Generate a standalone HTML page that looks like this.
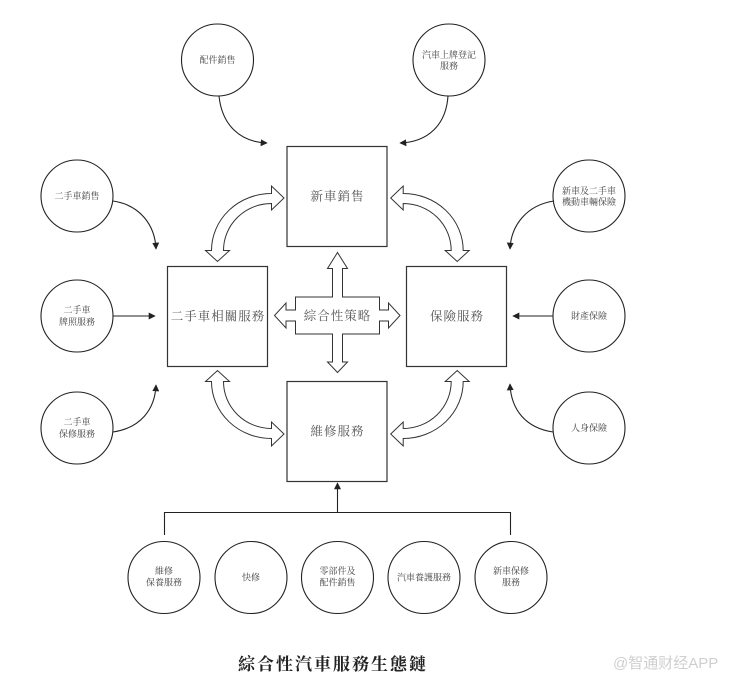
<!DOCTYPE html>
<html>
<head>
<meta charset="utf-8">
<style>
html,body{margin:0;padding:0;background:#fff;}
body{width:730px;height:680px;overflow:hidden;}
svg{display:block;}
.bx{fill:#fff;stroke:#333;stroke-width:1.2;}
.cr{fill:#fff;stroke:#222;stroke-width:1.1;}
.ar{fill:#fff;stroke:#333;stroke-width:1;stroke-linejoin:miter;}
.ln{fill:none;stroke:#222;stroke-width:1.1;}
.bt{font-family:"Liberation Serif","Noto Serif CJK SC",serif;font-size:12.5px;fill:#555;text-anchor:middle;letter-spacing:1px;}
.ct{font-family:"Liberation Serif","Noto Serif CJK SC",serif;font-size:9px;fill:#444;text-anchor:middle;}
</style>
</head>
<body>
<svg width="730" height="680" viewBox="0 0 730 680" xmlns="http://www.w3.org/2000/svg">
<defs>
<marker id="ah" viewBox="0 0 10 10" refX="9" refY="5" markerWidth="7" markerHeight="7" markerUnits="userSpaceOnUse" orient="auto">
<path d="M0,0 L10,5 L0,10 Z" fill="#222"/>
</marker>
</defs>

<!-- Boxes -->
<rect class="bx" x="287" y="146.5" width="100" height="100"/>
<rect class="bx" x="167.5" y="266.5" width="100" height="100"/>
<rect class="bx" x="406.5" y="266.5" width="100" height="100"/>
<rect class="bx" x="287" y="381.5" width="100" height="100"/>

<text class="bt" x="337.5" y="200.5">新車銷售</text>
<text class="bt" x="218" y="320.5">二手車相關服務</text>
<text class="bt" x="457" y="320.5">保險服務</text>
<text class="bt" x="337.5" y="435.5">維修服務</text>

<!-- Center cross -->
<polygon class="ar" points="337.5,252.5 347.5,268.5 342.5,268.5 342.5,297 379.5,297 379.5,310 388.5,310 388.5,303 400,315.5 388.5,328 388.5,321 379.5,321 379.5,334 342.5,334 342.5,362 347.5,362 337.5,372.5 327.5,362 332.5,362 332.5,334 295.5,334 295.5,321 286,321 286,328 274.5,315.5 286,303 286,310 295.5,310 295.5,297 332.5,297 332.5,268.5 327.5,268.5"/>
<text class="bt" x="337.5" y="320">綜合性策略</text>

<!-- Curved double arrows -->
<g id="ul">
<path class="ar" d="M271.5,193.5 L271.5,186 L284,198 L271.5,210 L271.5,203.5 A48,47 0 0 0 223.5,250.5 L229.5,250.5 L217.5,261.5 L205.5,250.5 L211.5,250.5 A60,57 0 0 1 271.5,193.5 Z"/>
</g>
<g transform="translate(674.7,0) scale(-1,1)">
<path class="ar" d="M271.5,193.5 L271.5,186 L284,198 L271.5,210 L271.5,203.5 A48,47 0 0 0 223.5,250.5 L229.5,250.5 L217.5,261.5 L205.5,250.5 L211.5,250.5 A60,57 0 0 1 271.5,193.5 Z"/>
</g>
<g transform="translate(0,632) scale(1,-1)">
<path class="ar" d="M271.5,193.5 L271.5,186 L284,198 L271.5,210 L271.5,203.5 A48,47 0 0 0 223.5,250.5 L229.5,250.5 L217.5,261.5 L205.5,250.5 L211.5,250.5 A60,57 0 0 1 271.5,193.5 Z"/>
</g>
<g transform="translate(674.7,632) scale(-1,-1)">
<path class="ar" d="M271.5,193.5 L271.5,186 L284,198 L271.5,210 L271.5,203.5 A48,47 0 0 0 223.5,250.5 L229.5,250.5 L217.5,261.5 L205.5,250.5 L211.5,250.5 A60,57 0 0 1 271.5,193.5 Z"/>
</g>

<!-- Top circles -->
<circle class="cr" cx="217.5" cy="60" r="36"/>
<text class="ct" x="217.5" y="63">配件銷售</text>
<circle class="cr" cx="449" cy="60" r="36"/>
<text class="ct" x="449" y="58">汽車上牌登記</text>
<text class="ct" x="449" y="69">服務</text>

<!-- Left circles -->
<circle class="cr" cx="77" cy="196" r="36"/>
<text class="ct" x="77" y="199">二手車銷售</text>
<circle class="cr" cx="77" cy="316" r="36"/>
<text class="ct" x="77" y="313">二手車</text>
<text class="ct" x="77" y="325">牌照服務</text>
<circle class="cr" cx="77" cy="428" r="36"/>
<text class="ct" x="77" y="425">二手車</text>
<text class="ct" x="77" y="437">保修服務</text>

<!-- Right circles -->
<circle class="cr" cx="589" cy="196" r="36"/>
<text class="ct" x="589" y="194">新車及二手車</text>
<text class="ct" x="589" y="205">機動車輛保險</text>
<circle class="cr" cx="589" cy="316" r="36"/>
<text class="ct" x="589" y="319">財產保險</text>
<circle class="cr" cx="589" cy="428" r="36"/>
<text class="ct" x="589" y="431">人身保險</text>

<!-- Thin arrows -->
<path class="ln" marker-end="url(#ah)" d="M219,96 C222,125 240,142 267,143"/>
<path class="ln" marker-end="url(#ah)" d="M448,96 C446,125 428,142 400,143"/>
<path class="ln" marker-end="url(#ah)" d="M113,201 C140,205 155,225 156,249"/>
<path class="ln" marker-end="url(#ah)" d="M554,201 C527,205 511,225 510,249"/>
<path class="ln" marker-end="url(#ah)" d="M113,316 L155,316"/>
<path class="ln" marker-end="url(#ah)" d="M553,316 L513,316"/>
<path class="ln" marker-end="url(#ah)" d="M113,432 C140,428 155,410 156,385"/>
<path class="ln" marker-end="url(#ah)" d="M553,432 C526,428 511,410 510,384"/>

<!-- Bottom tree -->
<path class="ln" d="M164.5,535 V512.5 H510.5 V535"/>
<path class="ln" marker-end="url(#ah)" d="M337.5,512.5 V483"/>

<circle class="cr" cx="164" cy="577.5" r="36"/>
<text class="ct" x="164" y="574">維修</text>
<text class="ct" x="164" y="585.5">保養服務</text>
<circle class="cr" cx="251" cy="577.5" r="36"/>
<text class="ct" x="251" y="580.5">快修</text>
<circle class="cr" cx="337.5" cy="577.5" r="36"/>
<text class="ct" x="337.5" y="574">零部件及</text>
<text class="ct" x="337.5" y="585.5">配件銷售</text>
<circle class="cr" cx="424" cy="577.5" r="36"/>
<text class="ct" x="424" y="580.5">汽車養護服務</text>
<circle class="cr" cx="511" cy="577.5" r="36"/>
<text class="ct" x="511" y="574">新車保修</text>
<text class="ct" x="511" y="585.5">服務</text>

<!-- Title -->
<text x="238" y="670" style="font-family:'Liberation Serif','Noto Serif CJK SC',serif;font-size:17px;font-weight:bold;fill:#222;letter-spacing:2px;">綜合性汽車服務生態鏈</text>

<!-- Watermark -->
<text x="613" y="668" style="font-family:'Liberation Sans','Noto Sans CJK SC',sans-serif;font-size:15px;fill:#cfcfcf;">@智通财经APP</text>
</svg>
</body>
</html>
